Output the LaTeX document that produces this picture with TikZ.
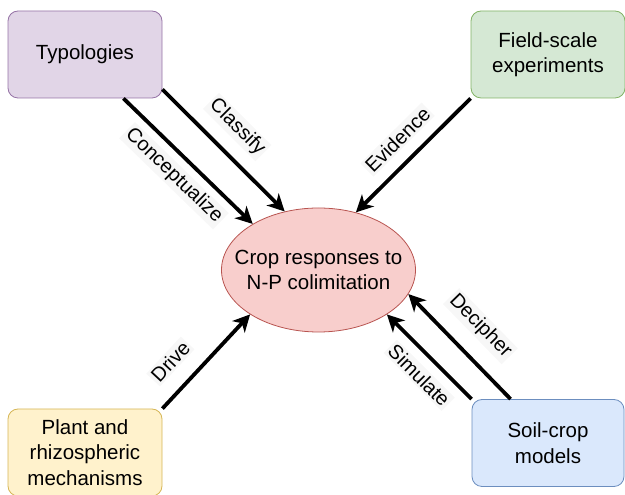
\documentclass[tikz,border=0pt]{standalone}
\usepackage{fontspec}
\setmainfont{Liberation Sans}
\usetikzlibrary{arrows.meta,shapes.geometric}

\definecolor{typfill}{HTML}{E1D5E7}
\definecolor{typline}{HTML}{9673A6}
\definecolor{fieldfill}{HTML}{D5E8D4}
\definecolor{fieldline}{HTML}{82B366}
\definecolor{plantfill}{HTML}{FFF2CC}
\definecolor{plantline}{HTML}{D6B656}
\definecolor{soilfill}{HTML}{DAE8FC}
\definecolor{soilline}{HTML}{6C8EBF}
\definecolor{cropfill}{HTML}{F8CECC}
\definecolor{cropline}{HTML}{B85450}

\begin{document}
\begin{tikzpicture}[x=1pt, y=1pt, >={Stealth[length=17pt,width=17pt,inset=5pt]},
	box/.style={draw, rounded corners=10pt, line width=0.8pt, minimum width=154pt,
		minimum height=87pt, align=center, font=\fontsize{20.5}{25.5}\selectfont},
	link/.style={->, line width=3.8pt},
	lab/.style={fill=black!3, sloped, inner sep=2pt, font=\fontsize{20}{24}\selectfont}]
	\useasboundingbox (0,0) rectangle (625,495);
	
	% Bốn khối xung quanh
	\node[box, draw=typline, fill=typfill] (typ) at (85,440.5) {Typologies};
	\node[box, draw=fieldline, fill=fieldfill] (field) at (548,440.5) {Field-scale\\experiments};
	\node[box, draw=plantline, fill=plantfill] (plant) at (85,42.5) {Plant and\\rhizospheric\\mechanisms};
	\node[box, draw=soilline, fill=soilfill, minimum width=152pt] (soil) at (548,52) {Soil-crop\\models};
	
	% Khối trung tâm (elip)
	\node[ellipse, draw=cropline, fill=cropfill, line width=0.8pt, inner sep=0pt,
		minimum width=194pt, minimum height=124pt] (crop) at (318.5,225) {};
	\node[align=center, font=\fontsize{20.5}{25}\selectfont] (croptext) at (crop) {Crop responses to\\N-P colimitation};
	
	% Các mũi tên
	\draw[link] ([yshift=9pt]typ.south east) -- (crop.120.6)
		node[lab, pos=0.46, above=13pt] {Classify};
	\draw[link] ([xshift=-39pt]typ.south east) -- (crop.145)
		node[lab, pos=0.5, below=7pt] {Conceptualize};
	\draw[link] (field.south west) -- (crop.57.5)
		node[lab, pos=0.5, above=11pt] {Evidence};
	\draw[link] (plant.north east) -- (crop.213.3)
		node[lab, pos=0.31, above=15pt] {Drive};
	\draw[link] ([xshift=39pt]soil.north west) -- (crop.345)
		node[lab, pos=0.5, above=16pt] {Decipher};
	\draw[link] (soil.north west) -- (crop.327)
		node[lab, pos=0.45, below=9pt] {Simulate};
\end{tikzpicture}
\end{document}
